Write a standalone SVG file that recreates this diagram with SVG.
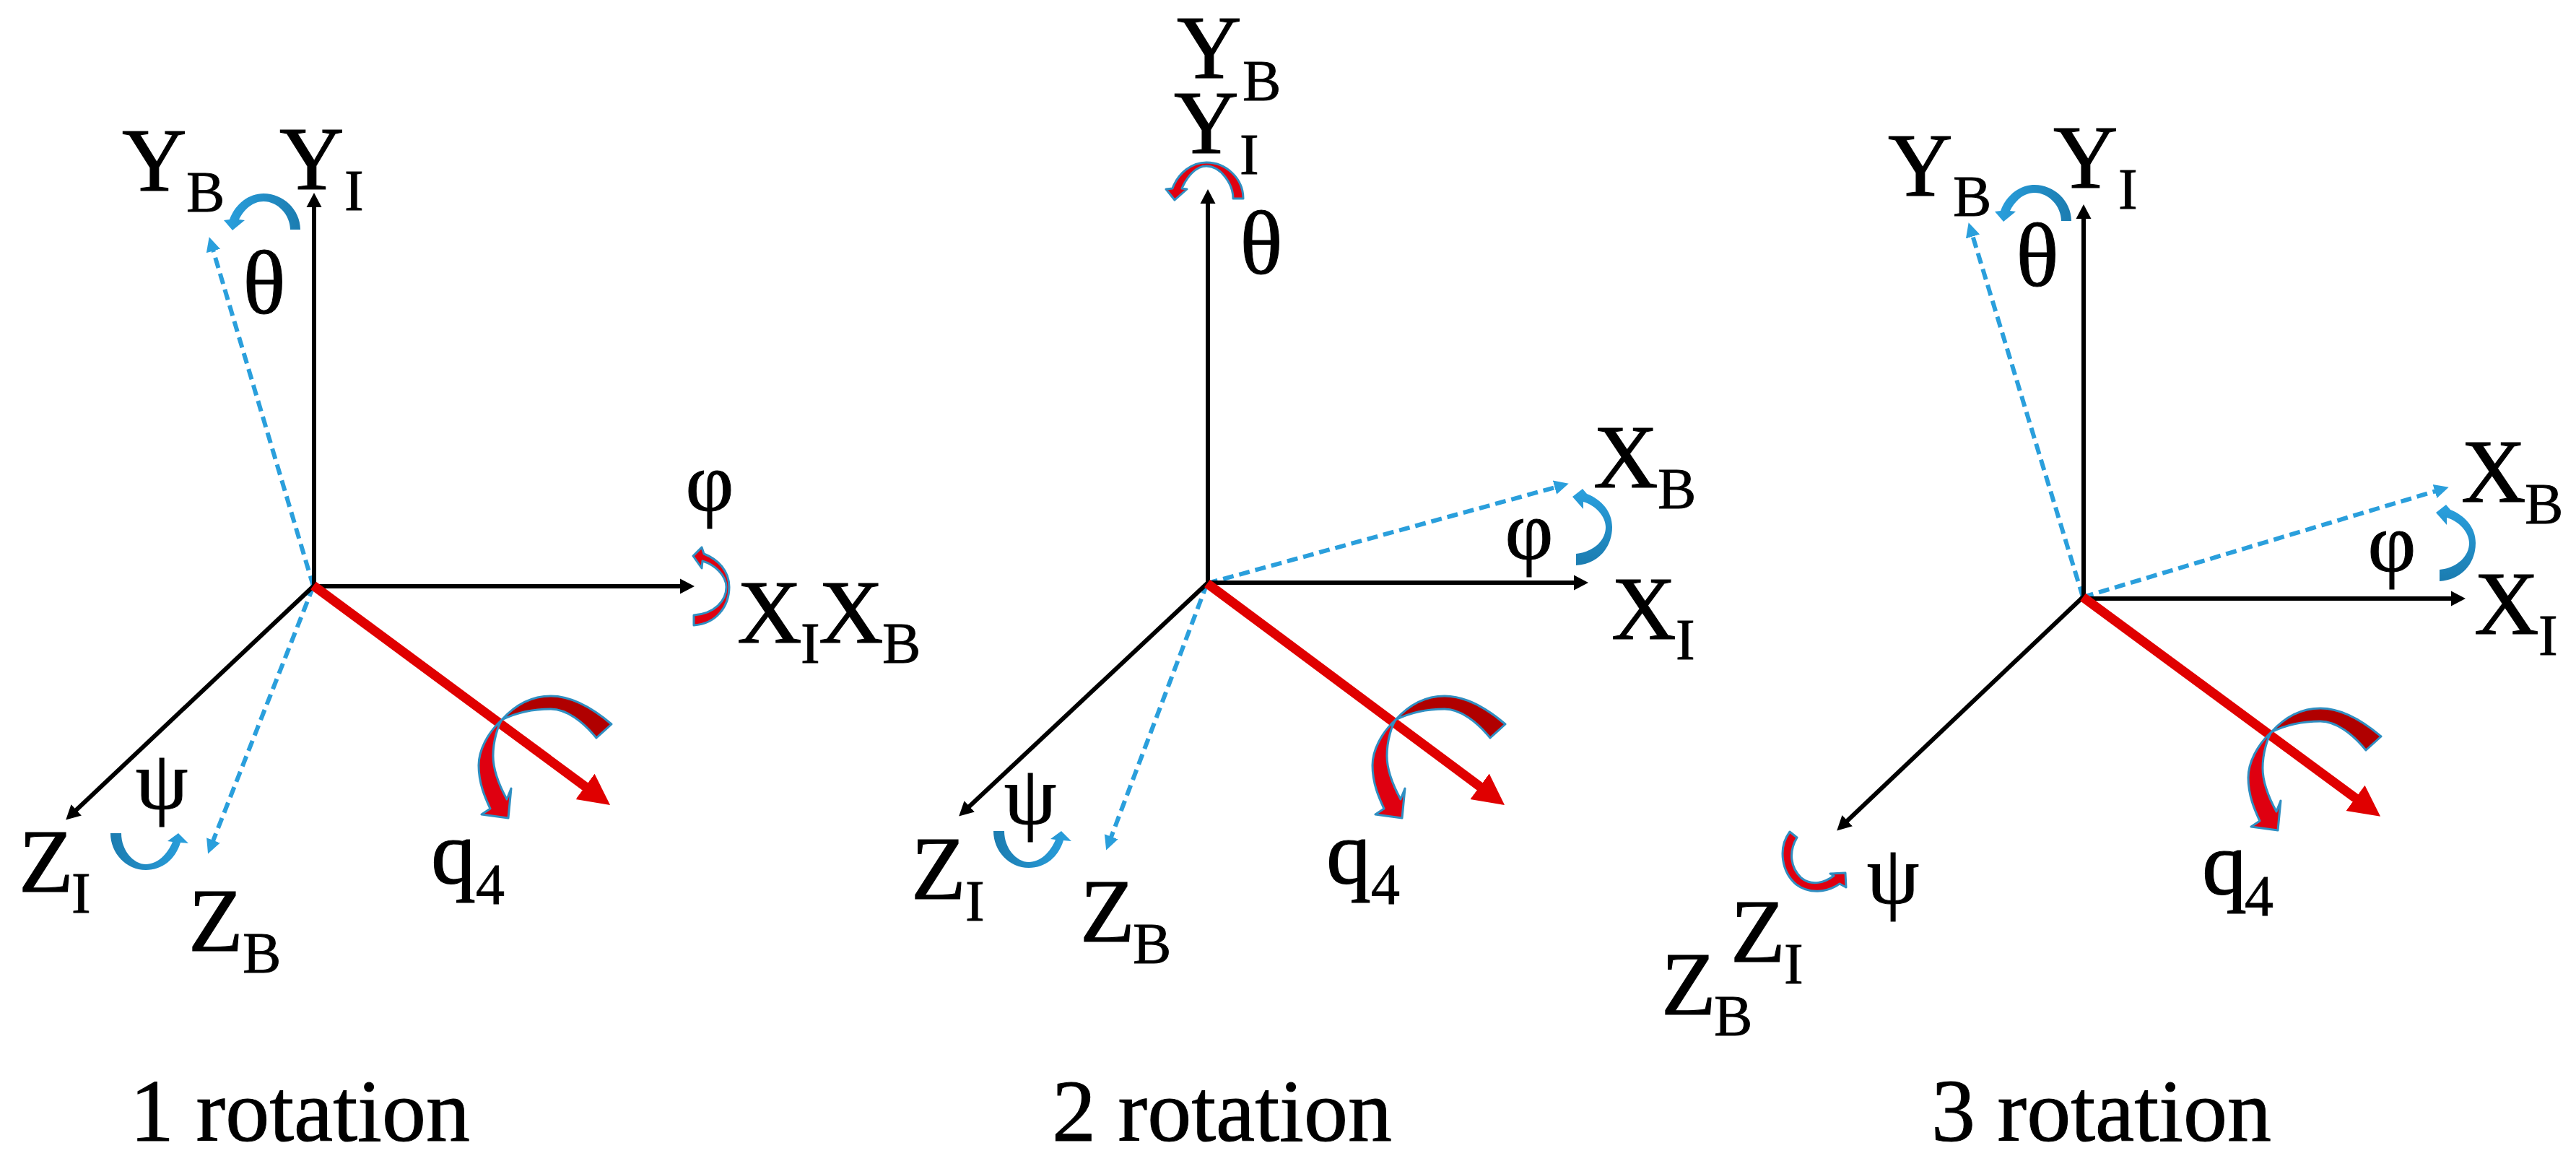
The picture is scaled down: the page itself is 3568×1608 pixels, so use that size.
<svg xmlns="http://www.w3.org/2000/svg" xmlns:xlink="http://www.w3.org/1999/xlink" width="3568" height="1608" viewBox="0 0 3568 1608">
<style>
text{font-family:"Liberation Serif","Times New Roman",serif;fill:#000;stroke:#000}
.m{font-size:124px;stroke-width:1.2}
.s{font-size:80px;stroke-width:.8}
.g{font-size:124px;text-anchor:middle;stroke-width:1}
.f{font-size:116px;text-anchor:middle;stroke-width:1}
.c{font-size:122px;stroke-width:1}
.ax{fill:none;stroke:#000;stroke-width:6;marker-end:url(#ka)}
.bd{fill:none;stroke:#2a9fdc;stroke-width:6;stroke-dasharray:15 8;marker-end:url(#ba)}
.rd{fill:none;stroke:#e00000;stroke-width:13;marker-end:url(#ra)}
.rs{fill:#df0010;stroke:#2f8fc2;stroke-width:3;stroke-linejoin:round}
.rt{fill:#b00000;stroke:#2f8fc2;stroke-width:3;stroke-linejoin:round}
</style>
<defs>
<marker id="ka" markerUnits="userSpaceOnUse" markerWidth="24" markerHeight="24" viewBox="0 -12 24 24" refX="12" refY="0" orient="auto"><path d="M0,-10.500 L20,0 L0,10.500 Z" fill="#000"/></marker>
<marker id="ba" markerUnits="userSpaceOnUse" markerWidth="24" markerHeight="24" viewBox="0 -12 24 24" refX="12" refY="0" orient="auto"><path d="M0,-10 L20,0 L0,10 Z" fill="#2a9fdc"/></marker>
<marker id="ra" markerUnits="userSpaceOnUse" markerWidth="46" markerHeight="46" viewBox="0 -23 46 46" refX="23" refY="0" orient="auto"><path d="M0,-22 L43,0 L0,22 Z" fill="#e00000"/></marker>
<linearGradient id="bl" x1="1" y1="0" x2="0" y2="0"><stop offset="0" stop-color="#1b7cb0"/><stop offset="1" stop-color="#2aa0de"/></linearGradient>
<linearGradient id="br" x1="0" y1="0" x2="1" y2="0"><stop offset="0" stop-color="#1b7cb0"/><stop offset="1" stop-color="#2aa0de"/></linearGradient>
<linearGradient id="bu" x1="0" y1="1" x2="0" y2="0"><stop offset="0" stop-color="#1b7cb0"/><stop offset="1" stop-color="#2aa0de"/></linearGradient>
<g id="spin">
<path class="rt" d="M847,1003 C820,980 790,964 763,964 C735,964 712,978 695,997 C715,987 740,982 763,982 C785,982 808,1000 826,1022 Z"/>
<path class="rs" d="M695,997 C675,1015 663,1040 663,1060 C663,1085 672,1105 679,1120 L667,1128 L704,1133 L708,1092 L702,1107 C690,1085 683,1065 683,1047 C683,1025 690,1005 695,997 Z"/>
</g>
<path id="theta" fill="url(#bl)" d="M416,318 C416,290 392,268 365,268 C345,268 326,282 318,304 L310,305 L322,319 L339,305 L331,304 C338,290 350,279 365,279 C385,279 402,298 402,318 Z"/>
<path id="psi" fill="url(#br)" d="M153,1154 C153,1182 175,1205 202,1205 C225,1205 243,1190 250,1167 L261,1168 L247,1154 L232,1165 L239,1166 C232,1183 218,1197 202,1197 C185,1197 168,1178 168,1154 Z"/>
<path id="phi" fill="url(#bu)" d="M2183,783 C2215,781 2233,757 2233,730 C2233,708 2218,692 2198,684 L2192,677 L2178,688 L2193,705 L2193,695 C2210,700 2224,715 2224,730 C2224,750 2205,765 2183,767 Z"/>
</defs>
<rect width="3568" height="1608" fill="#fff"/>
<g id="connectors">
<path class="bd" d="M434,812 L292,336"/>
<path class="bd" d="M434,812 L291,1175"/>
<path class="ax" d="M435,812 L435,275"/>
<path class="ax" d="M433,812 L954,812"/>
<path class="ax" d="M434,812 L97,1130"/>
<path class="rd" d="M434,811 L829,1103"/>
<path class="bd" d="M1672,808 L2165,672"/>
<path class="bd" d="M1672,808 L1535,1170"/>
<path class="ax" d="M1673,808 L1673,270"/>
<path class="ax" d="M1671,807 L2192,807"/>
<path class="ax" d="M1672,808 L1334,1125"/>
<path class="rd" d="M1672,808 L2068,1103"/>
<path class="bd" d="M2885,827 L2729,316"/>
<path class="bd" d="M2885,827 L3384,677"/>
<path class="ax" d="M2886,829 L2886,291"/>
<path class="ax" d="M2884,829 L3407,829"/>
<path class="ax" d="M2885,827 L2550,1145"/>
<path class="rd" d="M2885,827 L3281,1119"/>
</g>
<g id="spins">
<use xlink:href="#spin" href="#spin"/>
<use xlink:href="#spin" href="#spin" transform="translate(1238,0)"/>
<use xlink:href="#spin" href="#spin" transform="translate(2451,17)"/>
<use xlink:href="#theta" href="#theta"/>
<use xlink:href="#theta" href="#theta" transform="translate(2453,-12)"/>
<use xlink:href="#psi" href="#psi"/>
<use xlink:href="#psi" href="#psi" transform="translate(1223,-3)"/>
<use xlink:href="#phi" href="#phi"/>
<use xlink:href="#phi" href="#phi" transform="translate(1196,22)"/>
<path class="rs" d="M961,866 C992,864 1010,840 1010,813 C1010,791 995,775 975,767 L972,758 L960,770 L972,787 L973,777 C990,782 1006,797 1006,813 C1006,832 990,850 961,852 Z"/>
<path class="rs" d="M1722,275 C1722,247 1698,225 1671,225 C1651,225 1632,239 1624,261 L1615,262 L1627,277 L1644,262 L1637,261 C1644,245 1656,230 1671,230 C1691,230 1708,255 1708,275 Z"/>
<path class="rs" d="M2479,1152 L2489,1160 C2477,1180 2480,1202 2495,1216 C2510,1228 2528,1222 2540,1213 L2535,1210 L2556,1209 L2557,1229 L2548,1224 C2530,1237 2505,1238 2488,1225 C2468,1208 2462,1175 2479,1152 Z"/>
</g>
<g id="p1-YB"><text class="m" x="169" y="264">Y</text><text class="s" x="258" y="293">B</text></g>
<g id="p1-YI"><text class="m" x="387" y="262">Y</text><text class="s" x="477" y="291">I</text></g>
<g id="p1-XI"><text class="m" x="1021" y="890">X</text><text class="s" x="1109" y="918">I</text></g>
<g id="p1-XB"><text class="m" x="1134" y="890">X</text><text class="s" x="1222" y="918">B</text></g>
<g id="p1-ZI"><text class="m" x="26" y="1235">Z</text><text class="s" x="99" y="1264">I</text></g>
<g id="p1-ZB"><text class="m" x="261" y="1317">Z</text><text class="s" x="336" y="1347">B</text></g>
<g id="p1-theta"><text class="g" x="366" y="434">θ</text></g>
<g id="p1-phi"><text class="f" x="983" y="707">φ</text></g>
<g id="p1-psi"><text class="f" x="224" y="1120">ψ</text></g>
<g id="p1-q4"><text class="m" x="597" y="1223">q</text><text class="s" x="659" y="1252">4</text></g>
<g id="p1-caption"><text class="c" x="180" y="1580">1 rotation</text></g>
<g id="p2-YB"><text class="m" x="1630" y="108">Y</text><text class="s" x="1721" y="139">B</text></g>
<g id="p2-YI"><text class="m" x="1626" y="212">Y</text><text class="s" x="1717" y="241">I</text></g>
<g id="p2-XB"><text class="m" x="2207" y="675">X</text><text class="s" x="2296" y="704">B</text></g>
<g id="p2-XI"><text class="m" x="2232" y="885">X</text><text class="s" x="2321" y="913">I</text></g>
<g id="p2-ZI"><text class="m" x="1262" y="1245">Z</text><text class="s" x="1337" y="1275">I</text></g>
<g id="p2-ZB"><text class="m" x="1496" y="1304">Z</text><text class="s" x="1569" y="1334">B</text></g>
<g id="p2-theta"><text class="g" x="1747" y="379">θ</text></g>
<g id="p2-phi"><text class="f" x="2118" y="774">φ</text></g>
<g id="p2-psi"><text class="f" x="1427" y="1141">ψ</text></g>
<g id="p2-q4"><text class="m" x="1837" y="1223">q</text><text class="s" x="1899" y="1252">4</text></g>
<g id="p2-caption"><text class="c" x="1457" y="1580">2 rotation</text></g>
<g id="p3-YB"><text class="m" x="2615" y="271">Y</text><text class="s" x="2705" y="299">B</text></g>
<g id="p3-YI"><text class="m" x="2844" y="260">Y</text><text class="s" x="2934" y="289">I</text></g>
<g id="p3-XB"><text class="m" x="3409" y="695">X</text><text class="s" x="3497" y="725">B</text></g>
<g id="p3-XI"><text class="m" x="3427" y="878">X</text><text class="s" x="3516" y="907">I</text></g>
<g id="p3-ZI"><text class="m" x="2397" y="1332">Z</text><text class="s" x="2471" y="1362">I</text></g>
<g id="p3-ZB"><text class="m" x="2301" y="1405">Z</text><text class="s" x="2374" y="1434">B</text></g>
<g id="p3-theta"><text class="g" x="2822" y="396">θ</text></g>
<g id="p3-phi"><text class="f" x="3313" y="791">φ</text></g>
<g id="p3-psi"><text class="f" x="2622" y="1251">ψ</text></g>
<g id="p3-q4"><text class="m" x="3050" y="1238">q</text><text class="s" x="3109" y="1268">4</text></g>
<g id="p3-caption"><text class="c" x="2675" y="1580">3 rotation</text></g>
</svg>
